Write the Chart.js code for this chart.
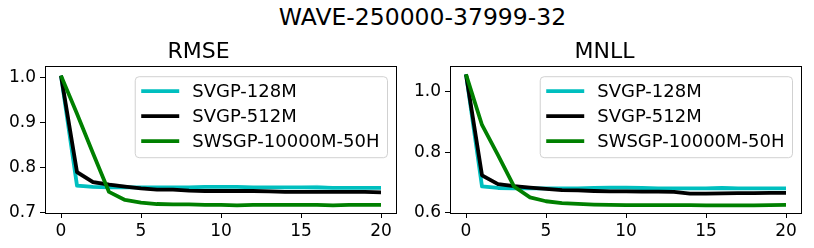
<!DOCTYPE html>
<html>
<head>
<meta charset="utf-8">
<script src="https://cdn.jsdelivr.net/npm/chart.js@4.4.1/dist/chart.umd.min.js"></script>
<style>
  body { margin: 0; background: #fff; }
  #wrap { position: relative; width: 814px; height: 248px; overflow: hidden; font-family: "DejaVu Sans", sans-serif; }
  #suptitle { position: absolute; left: 0; width: 845px; top: 6px; font-size: 23.5px; line-height: 23.5px; text-align: center; color: #000; white-space: nowrap; }
  .panel { position: absolute; top: 30px; }
</style>
</head>
<body>
<div id="wrap">
  <div id="suptitle">WAVE-250000-37999-32</div>
  <div class="panel" style="left:0px"><canvas id="rmse" width="407" height="218"></canvas></div>
  <div class="panel" style="left:407px"><canvas id="mnll" width="407" height="218"></canvas></div>
</div>
<script>
// epochs on the x axis
const epochs = [0, 1, 2, 3, 4, 5, 6, 7, 8, 9, 10, 11, 12, 13, 14, 15, 16, 17, 18, 19, 20];
const xTicks = [0, 5, 10, 15, 20];

const seriesLabels = ["SVGP-128M", "SVGP-512M", "SWSGP-10000M-50H"];
const seriesColors = ["#00bfbf", "#000000", "#008000"];
const bandColors = ["rgba(0,191,191,0.25)", "rgba(0,0,0,0.2)", "rgba(0,128,0,0.25)"];

// RMSE (mean and std per epoch)
const rmseSvgp128 = [1.005, 0.760, 0.757, 0.756, 0.756, 0.756, 0.756, 0.756, 0.756, 0.757, 0.757, 0.757, 0.756, 0.756, 0.756, 0.756, 0.756, 0.755, 0.755, 0.755, 0.755];
const rmseSvgp512 = [1.005, 0.790, 0.768, 0.762, 0.758, 0.754, 0.751, 0.751, 0.749, 0.748, 0.748, 0.748, 0.748, 0.747, 0.746, 0.746, 0.746, 0.746, 0.746, 0.746, 0.745];
const rmseSwsgp = [1.005, 0.920, 0.832, 0.746, 0.728, 0.722, 0.719, 0.718, 0.718, 0.717, 0.717, 0.716, 0.717, 0.717, 0.717, 0.717, 0.717, 0.716, 0.717, 0.717, 0.717];
const rmseStd128 = [0.001, 0.004, 0.003, 0.002, 0.002, 0.002, 0.002, 0.002, 0.003, 0.003, 0.003, 0.002, 0.002, 0.002, 0.002, 0.003, 0.006, 0.003, 0.002, 0.002, 0.002];
const rmseStd512 = [0.001, 0.006, 0.005, 0.005, 0.004, 0.003, 0.003, 0.002, 0.002, 0.002, 0.002, 0.002, 0.002, 0.003, 0.003, 0.003, 0.003, 0.002, 0.002, 0.002, 0.002];
const rmseStdSw = [0.001, 0.002, 0.002, 0.002, 0.002, 0.002, 0.001, 0.001, 0.001, 0.001, 0.001, 0.002, 0.001, 0.001, 0.001, 0.001, 0.001, 0.002, 0.001, 0.001, 0.001];

// MNLL (mean and std per epoch)
const mnllSvgp128 = [1.058, 0.686, 0.681, 0.680, 0.680, 0.680, 0.680, 0.680, 0.681, 0.682, 0.682, 0.681, 0.680, 0.680, 0.680, 0.680, 0.681, 0.680, 0.680, 0.680, 0.680];
const mnllSvgp512 = [1.058, 0.723, 0.694, 0.687, 0.682, 0.678, 0.674, 0.673, 0.671, 0.670, 0.670, 0.669, 0.669, 0.668, 0.662, 0.662, 0.663, 0.664, 0.664, 0.665, 0.665];
const mnllSwsgp = [1.058, 0.890, 0.790, 0.686, 0.650, 0.637, 0.631, 0.628, 0.626, 0.625, 0.624, 0.624, 0.624, 0.624, 0.624, 0.623, 0.623, 0.623, 0.623, 0.624, 0.625];
const mnllStd128 = [0.002, 0.005, 0.004, 0.003, 0.003, 0.003, 0.003, 0.003, 0.004, 0.004, 0.004, 0.003, 0.003, 0.003, 0.003, 0.004, 0.006, 0.004, 0.003, 0.003, 0.003];
const mnllStd512 = [0.002, 0.008, 0.006, 0.006, 0.005, 0.004, 0.004, 0.003, 0.003, 0.003, 0.003, 0.003, 0.003, 0.004, 0.004, 0.004, 0.004, 0.003, 0.003, 0.003, 0.003];
const mnllStdSw = [0.002, 0.003, 0.003, 0.003, 0.003, 0.002, 0.002, 0.002, 0.002, 0.002, 0.002, 0.002, 0.002, 0.002, 0.002, 0.002, 0.002, 0.003, 0.002, 0.002, 0.002];

const rmseTicks = [0.7, 0.8, 0.9, 1.0];
const mnllTicks = [0.6, 0.8, 1.0];

const FONT = "'DejaVu Sans', sans-serif";

const toPoints = (vals) => epochs.map((e, k) => ({ x: e, y: vals[k] }));

// black box around the plot area
const framePlugin = {
  id: "frame",
  afterDatasetsDraw(chart) {
    const { ctx, chartArea: a } = chart;
    ctx.save();
    ctx.strokeStyle = "#000";
    ctx.lineWidth = 1;
    ctx.strokeRect(Math.round(a.left) + 0.5, Math.round(a.top) + 0.5,
      Math.round(a.right - a.left) - 1, Math.round(a.bottom - a.top));
    ctx.restore();
  },
};

// matplotlib-like legend box in the upper right of the plot
const boxLegendPlugin = {
  id: "boxLegend",
  afterDraw(chart) {
    const { ctx, chartArea: a } = chart;
    const items = chart.data.datasets.filter((d) => d.inLegend);
    ctx.save();
    ctx.font = "18px " + FONT;
    const textW = Math.max(...items.map((d) => ctx.measureText(d.label).width));
    const w = 57 + textW + 8;
    const h = 81;
    const right = a.right - 9.5;
    const left = right - w;
    const top = a.top + 10.5;
    ctx.beginPath();
    ctx.roundRect(left, top, w, h, 4);
    ctx.fillStyle = "rgba(255,255,255,0.8)";
    ctx.fill();
    ctx.strokeStyle = "rgba(204,204,204,0.9)";
    ctx.lineWidth = 1;
    ctx.stroke();
    items.forEach((d, i) => {
      const y = top + 14.5 + i * 25;
      ctx.beginPath();
      ctx.moveTo(left + 6, y);
      ctx.lineTo(left + 44, y);
      ctx.strokeStyle = d.borderColor;
      ctx.lineWidth = 3.8;
      ctx.stroke();
      ctx.fillStyle = "#000";
      ctx.textBaseline = "middle";
      ctx.fillText(d.label, left + 57, y + 1);
    });
    ctx.restore();
  },
};

const makePanel = (canvasId, title, means, stds, yTicks, yMin, yMax, yAxisWidth, rightPad) => {
  const datasets = [];
  means.forEach((vals, i) => {
    datasets.push({
      label: seriesLabels[i] + " upper",
      data: toPoints(vals.map((v, k) => v + stds[i][k])),
      borderWidth: 0,
      pointRadius: 0,
      fill: false,
      order: 10 + i,
    });
    datasets.push({
      label: seriesLabels[i] + " lower",
      data: toPoints(vals.map((v, k) => v - stds[i][k])),
      borderWidth: 0,
      pointRadius: 0,
      fill: "-1",
      backgroundColor: bandColors[i],
      order: 10 + i,
    });
  });
  means.forEach((vals, i) => {
    datasets.push({
      label: seriesLabels[i],
      inLegend: true,
      data: toPoints(vals),
      borderColor: seriesColors[i],
      backgroundColor: seriesColors[i],
      borderWidth: 3.8,
      borderJoinStyle: "round",
      pointRadius: 0,
      tension: 0,
      fill: false,
      order: 3 - i,
    });
  });

  return new Chart(document.getElementById(canvasId).getContext("2d"), {
    type: "line",
    data: { datasets },
    plugins: [framePlugin, boxLegendPlugin],
    options: {
      responsive: false,
      animation: false,
      devicePixelRatio: 1,
      events: [],
      layout: { padding: { left: 0, right: rightPad, top: 0, bottom: 0 } },
      plugins: {
        legend: { display: false },
        tooltip: { enabled: false },
        title: {
          display: true,
          text: title,
          color: "#000",
          font: { family: FONT, size: 22, weight: "normal" },
          padding: { top: 9.5, bottom: 0.3 },
        },
      },
      scales: {
        x: {
          type: "linear",
          min: -1,
          max: 21,
          afterBuildTicks: (s) => { s.ticks = xTicks.map((v) => ({ value: v })); },
          afterFit: (s) => { s.height = 35; },
          ticks: { color: "#000", font: { family: FONT, size: 17 }, padding: 3, maxRotation: 0 },
          grid: { drawOnChartArea: false, drawTicks: true, tickLength: 5, color: "#000", lineWidth: 1 },
          border: { display: false },
        },
        y: {
          min: yMin,
          max: yMax,
          afterBuildTicks: (s) => { s.ticks = yTicks.map((v) => ({ value: v })); },
          afterFit: (s) => { s.width = yAxisWidth; },
          ticks: { color: "#000", font: { family: FONT, size: 17 }, padding: 4, callback: (v) => v.toFixed(1) },
          grid: { drawOnChartArea: false, drawTicks: true, tickLength: 5, color: "#000", lineWidth: 1 },
          border: { display: false },
        },
      },
    },
  });
};

makePanel("rmse", "RMSE", [rmseSvgp128, rmseSvgp512, rmseSwsgp], [rmseStd128, rmseStd512, rmseStdSw],
  rmseTicks, 0.699, 1.026, 45, 10);
makePanel("mnll", "MNLL", [mnllSvgp128, mnllSvgp512, mnllSwsgp], [mnllStd128, mnllStd512, mnllStdSw],
  mnllTicks, 0.598, 1.085, 43, 12);
</script>
</body>
</html>
